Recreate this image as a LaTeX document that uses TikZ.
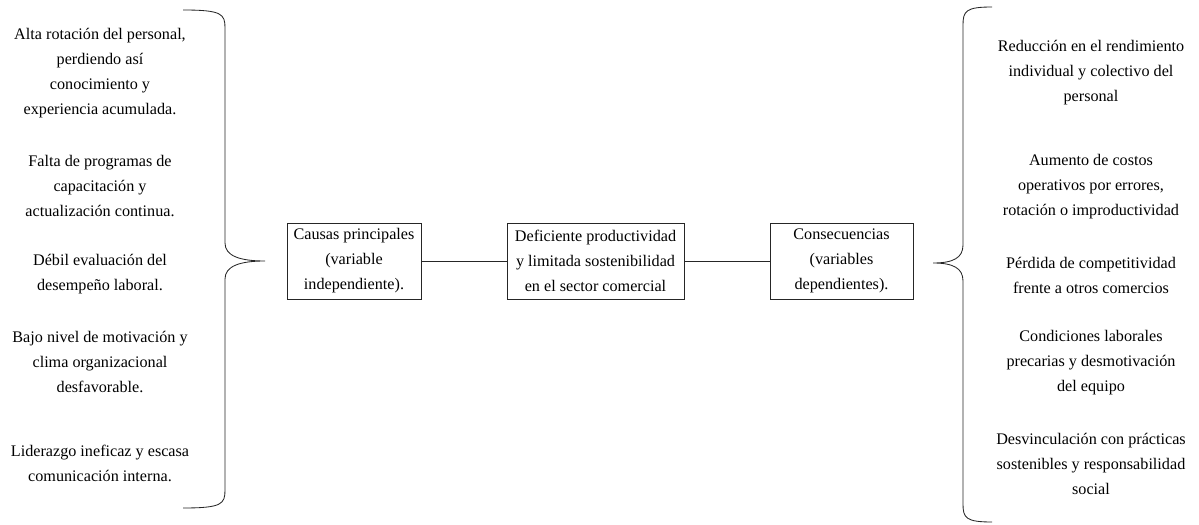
\documentclass[tikz,border=0pt]{standalone}
\usepackage{fontspec}
\setmainfont{Liberation Serif}
\begin{document}
\begin{tikzpicture}[x=0.025cm, y=-0.025cm,
	txt/.style={align=center, inner sep=0pt, font=\fontsize{11.5}{17.8}\selectfont},
	caja/.style={txt, draw=black!85, line width=0.6pt, minimum height=76*0.025cm},
	linea/.style={black!85, line width=0.6pt}]

	\useasboundingbox (0,0) rectangle (1199,525);

	% llaves
	\def\llaveIzq#1#2#3#4#5{
		\draw[linea] (#1,#2) .. controls (#3-3,#2) and (#3,#2+4) .. (#3,#2+18)
			-- (#3,#4-18) .. controls (#3,#4-5) and (#3+15,#4) .. (#5,#4)
			.. controls (#3+15,#4) and (#3,#4+5) .. (#3,#4+18)
			-- (#3,508-18) .. controls (#3,508-4) and (#3-3,508) .. (#1,508);
	}
	\def\llaveDer#1#2#3#4#5{
		\draw[linea] (#1,#2) .. controls (#3+3,#2) and (#3,#2+4) .. (#3,#2+18)
			-- (#3,#4-18) .. controls (#3,#4-5) and (#3-10,#4) .. (#5,#4)
			.. controls (#3-10,#4) and (#3,#4+5) .. (#3,#4+18)
			-- (#3,522-18) .. controls (#3,522-4) and (#3+3,522) .. (#1,522);
	}

	\llaveIzq {183}{10} {225}{261} {265};
	\llaveDer {992}{7} {963}{263} {933};

	% causas
	\node[txt] (causa1) at (100,73) {Alta rotación del personal,\\ perdiendo así\\ conocimiento y\\ experiencia acumulada.};
	\node[txt] (causa2) at (100,186) {Falta de programas de\\ capacitación y\\ actualización continua.};
	\node[txt] (causa3) at (100,274) {Débil evaluación del\\ desempeño laboral.};
	\node[txt] (causa4) at (100,362) {Bajo nivel de motivación y\\ clima organizacional\\ desfavorable.};
	\node[txt] (causa5) at (100,463) {Liderazgo ineficaz y escasa\\ comunicación interna.};

	% cajas centrales
	\node[caja, minimum width=134*0.025cm] (causas) at (354,261) {Causas principales\\ (variable\\ independiente).};
	\node[caja, minimum width=177*0.025cm] (problema) at (595.5,261) {Deficiente productividad\\ y limitada sostenibilidad\\ en el sector comercial};
	\node[caja, minimum width=143*0.025cm] (consec) at (841.5,261) {Consecuencias\\ (variables\\ dependientes).};

	\draw[linea] (causas) -- (problema);
	\draw[linea] (problema) -- (consec);

	% consecuencias
	\node[txt] (cons1) at (1091,73) {Reducción en el rendimiento\\ individual y colectivo del\\ personal};
	\node[txt] (cons2) at (1091,187) {Aumento de costos\\ operativos por errores,\\ rotación o improductividad};
	\node[txt] (cons3) at (1091,275) {Pérdida de competitividad\\ frente a otros comercios};
	\node[txt] (cons4) at (1091,363) {Condiciones laborales\\ precarias y desmotivación\\ del equipo};
	\node[txt] (cons5) at (1091,464) {Desvinculación con prácticas\\ sostenibles y responsabilidad\\ social};

\end{tikzpicture}
\end{document}
